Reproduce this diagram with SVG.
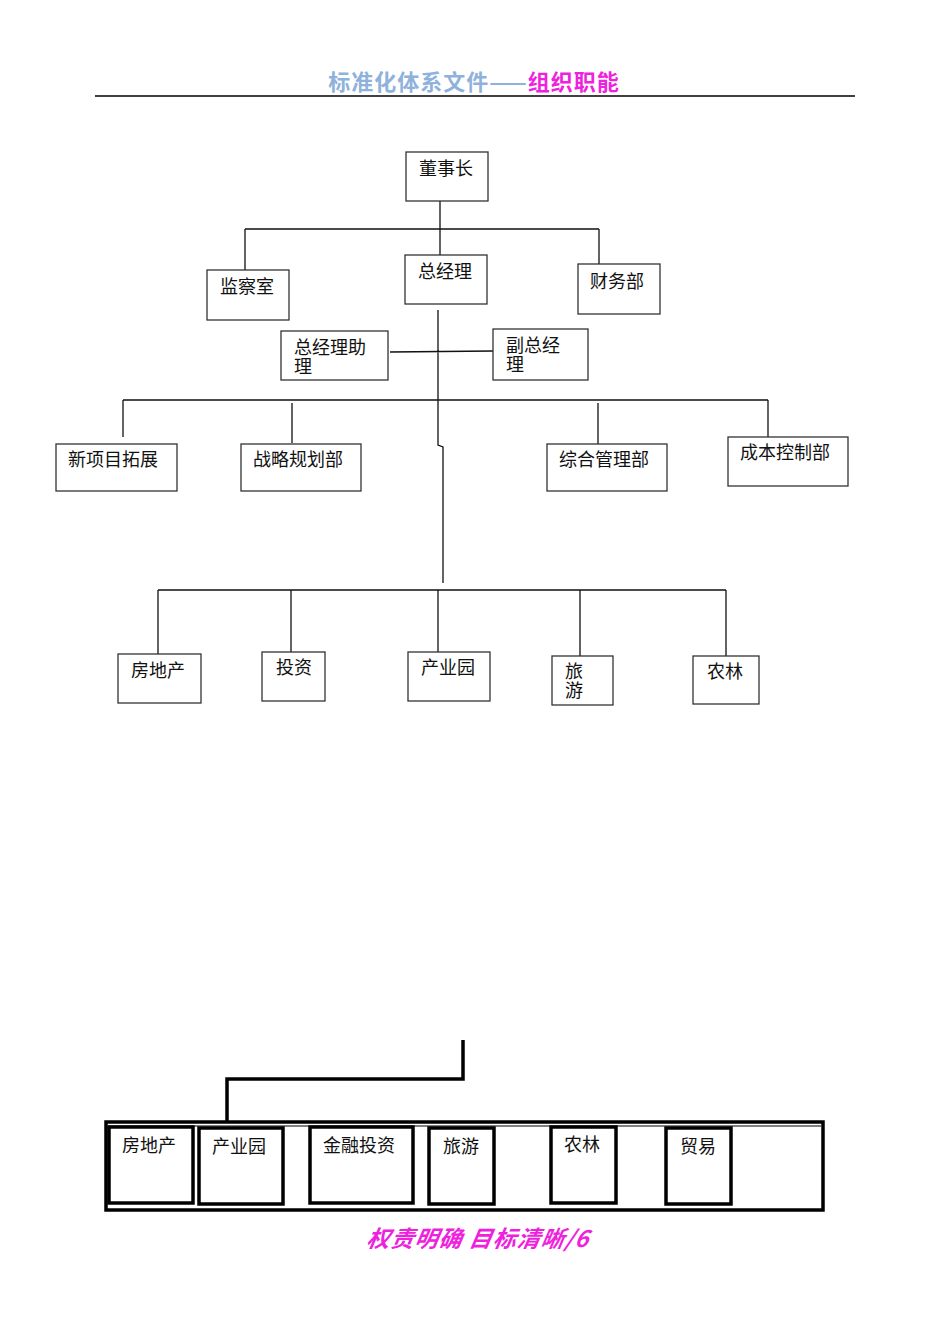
<svg xmlns="http://www.w3.org/2000/svg" width="950" height="1344" viewBox="0 0 950 1344">
<style>
.b{fill:#fff;stroke:#333;stroke-width:1.3}
.tb{fill:#fff;stroke:#000;stroke-width:3.5}
.t{font-family:"Liberation Serif","Noto Sans CJK SC",serif;font-size:18px;fill:#111}
.c{fill:none;stroke:#111;stroke-width:1.3}
</style>
<rect width="950" height="1344" fill="#fff"/>
<text x="474" y="90" text-anchor="middle" font-family="'Noto Sans CJK SC',sans-serif" font-size="22" font-weight="bold" letter-spacing="1"><tspan fill="#8fb2dc">标准化体系文件——</tspan><tspan fill="#ee22dd">组织职能</tspan></text>
<line x1="95" y1="96" x2="855" y2="96" stroke="#000" stroke-width="1.3"/>
<g id="connectors">
<path class="c" d="M440 201V255M245 229L599 229M245 229V270M599 229V264M438 310V445L443 447V583M390 352L493 351M123 400H768M123 400V437M292 403V443M598 403V444M768 400V437M158 590H726M158 590V654M291 590V652M438 590V652M580 590V656M726 590V656"/>
<path d="M463 1040V1079H227V1122" fill="none" stroke="#000" stroke-width="3.5"/>
</g>
<g id="n1"><rect class="b" x="406" y="152" width="82" height="49"/><text class="t" x="419" y="175">董事长</text></g>
<g id="n2"><rect class="b" x="207" y="270" width="82" height="50"/><text class="t" x="220" y="293">监察室</text></g>
<g id="n3"><rect class="b" x="405" y="255" width="82" height="49"/><text class="t" x="418" y="278">总经理</text></g>
<g id="n4"><rect class="b" x="578" y="264" width="82" height="50"/><text class="t" x="590" y="288">财务部</text></g>
<g id="n5"><rect class="b" x="281" y="331" width="107" height="49"/><text class="t" x="294" y="354">总经理助</text><text class="t" x="294" y="373">理</text></g>
<g id="n6"><rect class="b" x="493" y="329" width="95" height="51"/><text class="t" x="506" y="352">副总经</text><text class="t" x="506" y="371">理</text></g>
<g id="n7"><rect class="b" x="56" y="444" width="121" height="47"/><text class="t" x="68" y="466">新项目拓展</text></g>
<g id="n8"><rect class="b" x="241" y="444" width="120" height="47"/><text class="t" x="253" y="466">战略规划部</text></g>
<g id="n9"><rect class="b" x="547" y="444" width="120" height="47"/><text class="t" x="559" y="466">综合管理部</text></g>
<g id="n10"><rect class="b" x="728" y="437" width="120" height="49"/><text class="t" x="740" y="459">成本控制部</text></g>
<g id="n11"><rect class="b" x="118" y="654" width="83" height="49"/><text class="t" x="131" y="677">房地产</text></g>
<g id="n12"><rect class="b" x="262" y="652" width="63" height="49"/><text class="t" x="276" y="674">投资</text></g>
<g id="n13"><rect class="b" x="408" y="652" width="82" height="49"/><text class="t" x="421" y="674">产业园</text></g>
<g id="n14"><rect class="b" x="552" y="656" width="61" height="49"/><text class="t" x="565" y="678">旅</text><text class="t" x="565" y="697">游</text></g>
<g id="n15"><rect class="b" x="693" y="656" width="66" height="48"/><text class="t" x="707" y="678">农林</text></g>
<g id="outer"><rect x="106" y="1122" width="717" height="88" fill="#fff" stroke="#000" stroke-width="3.5"/><line x1="108" y1="1126" x2="821" y2="1126" stroke="#000" stroke-width="1"/></g>
<g id="m1"><rect class="tb" x="109" y="1127" width="84" height="76"/><text class="t" x="122" y="1152">房地产</text></g>
<g id="m2"><rect class="tb" x="199" y="1128" width="84" height="76"/><text class="t" x="212" y="1153">产业园</text></g>
<g id="m3"><rect class="tb" x="310" y="1127" width="103" height="76"/><text class="t" x="323" y="1152">金融投资</text></g>
<g id="m4"><rect class="tb" x="429" y="1128" width="65" height="76"/><text class="t" x="443" y="1153">旅游</text></g>
<g id="m5"><rect class="tb" x="551" y="1127" width="65" height="76"/><text class="t" x="564" y="1151">农林</text></g>
<g id="m6"><rect class="tb" x="666" y="1128" width="65" height="76"/><text class="t" x="680" y="1153">贸易</text></g>
<text x="477" y="1247" text-anchor="middle" font-family="'Noto Sans CJK SC',sans-serif" font-size="23" font-weight="bold" font-style="italic" fill="#ee22dd" letter-spacing="1" transform="skewX(-10) translate(220 0)">权责明确  目标清晰/6</text>
</svg>
